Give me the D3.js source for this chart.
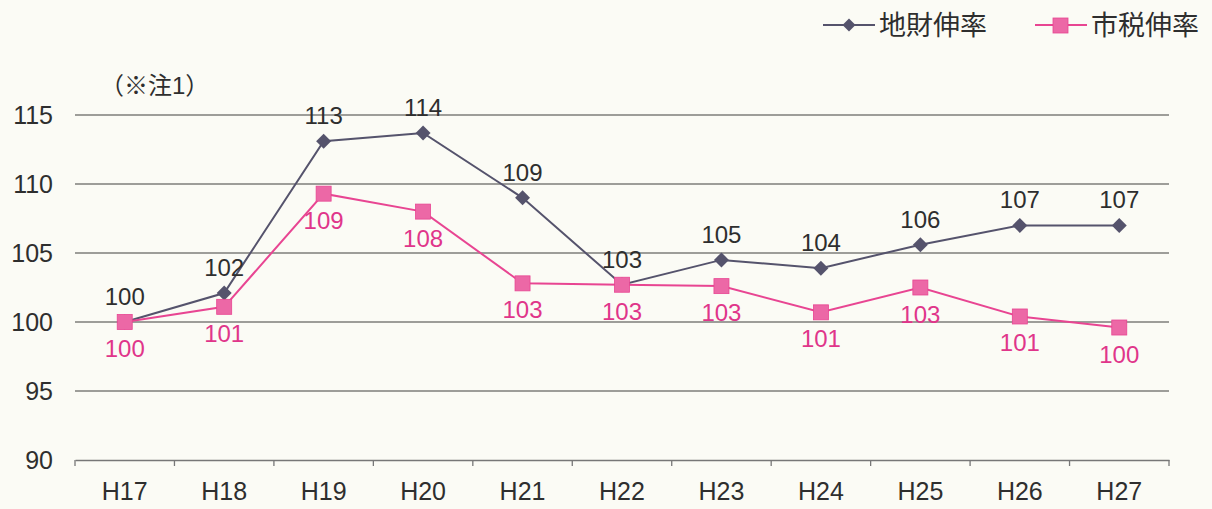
<!DOCTYPE html>
<html><head><meta charset="utf-8">
<script src="https://cdn.jsdelivr.net/npm/d3@7"></script>
<style>
body{margin:0;background:#fbfbf5;}
svg{display:block;}
text{font-family:"Liberation Sans",Arial,"Noto Sans CJK JP",sans-serif;}
</style></head>
<body><svg id="c" width="1212" height="509"></svg>
<script>
const categories = ["H17","H18","H19","H20","H21","H22","H23","H24","H25","H26","H27"];
const chizaiValues = [100,102.1,113.1,113.7,109.0,102.7,104.5,103.9,105.6,107.0,107.0];
const chizaiLabels = ["100","102","113","114","109","103","105","104","106","107","107"];
const shizeiValues = [100,101.1,109.3,108.0,102.8,102.7,102.6,100.7,102.5,100.4,99.6];
const shizeiLabels = ["100","101","109","108","103","103","103","101","103","101","100"];
const yTicks = [90,95,100,105,110,115];
const seriesNames = ["地財伸率","市税伸率"];

const svg = d3.select("#c");
const x = d3.scaleBand().domain(categories).range([75,1169]);
const y = d3.scaleLinear().domain([90,115]).range([460,115]);
const darkC = "#55536c", pinkLine = "#e84592", pinkMark = "#ec68a6";

// gridlines
svg.append("g").selectAll("line").data(yTicks.filter(d=>d>90)).join("line")
  .attr("x1",75).attr("x2",1169).attr("y1",d=>y(d)).attr("y2",d=>y(d))
  .attr("stroke","#7e7e7a").attr("stroke-width",1.3);
// y labels
svg.append("g").selectAll("text").data(yTicks).join("text")
  .attr("x",53).attr("y",d=>y(d)+9).attr("text-anchor","end")
  .attr("font-size",25).attr("fill","#2e2e2e").text(d=>d);
// x axis
const xa = svg.append("g").attr("transform","translate(0,460)")
  .call(d3.axisBottom(x).tickSize(0).tickPadding(22));
xa.select(".domain").attr("stroke","#777").attr("stroke-width",1.3);
xa.selectAll("text").attr("font-size",25).attr("fill","#2e2e2e")
  .attr("font-family","\"Liberation Sans\",Arial,sans-serif");
// boundary ticks
const bounds = categories.map(c=>x(c)).concat([x.range()[1]]);
svg.append("g").selectAll("line").data(bounds).join("line")
  .attr("x1",d=>d).attr("x2",d=>d).attr("y1",460).attr("y2",466)
  .attr("stroke","#777").attr("stroke-width",1.3);

const cx = c => x(c)+x.bandwidth()/2;
const line = d3.line().x((d,i)=>cx(categories[i])).y(d=>y(d));

// lines
svg.append("path").datum(chizaiValues).attr("d",line).attr("fill","none")
  .attr("stroke",darkC).attr("stroke-width",2);
svg.append("path").datum(shizeiValues).attr("d",line).attr("fill","none")
  .attr("stroke",pinkLine).attr("stroke-width",2);

// markers
const diamond = d3.symbol().type(d3.symbolSquare).size(112);
svg.append("g").selectAll("path").data(chizaiValues).join("path")
  .attr("d",diamond).attr("transform",(d,i)=>`translate(${cx(categories[i])},${y(d)}) rotate(45)`)
  .attr("fill",darkC);
svg.append("g").selectAll("rect").data(shizeiValues).join("rect")
  .attr("x",(d,i)=>cx(categories[i])-7.5).attr("y",d=>y(d)-7.5)
  .attr("width",15).attr("height",15).attr("fill",pinkMark).attr("stroke",pinkLine).attr("stroke-width",0.8);

// labels
svg.append("g").selectAll("text").data(chizaiValues).join("text")
  .attr("x",(d,i)=>cx(categories[i])).attr("y",d=>y(d)-17).attr("text-anchor","middle")
  .attr("font-size",24).attr("fill","#2e2e2e").text((d,i)=>chizaiLabels[i]);
svg.append("g").selectAll("text").data(shizeiValues).join("text")
  .attr("x",(d,i)=>cx(categories[i])).attr("y",d=>y(d)+35).attr("text-anchor","middle")
  .attr("font-size",24).attr("fill","#e0358a").text((d,i)=>shizeiLabels[i]);

// note
svg.append("text").attr("x",100).attr("y",94).attr("font-size",24).attr("fill","#2e2e2e")
  .attr("font-family","\"Noto Sans CJK JP\",sans-serif").text("（※注1）");

// legend
const lg = svg.append("g");
const items = [{name:seriesNames[0],x:823,c:darkC,type:"d"},{name:seriesNames[1],x:1035,c:pinkLine,type:"s"}];
items.forEach(it=>{
  lg.append("line").attr("x1",it.x).attr("x2",it.x+52).attr("y1",25).attr("y2",25)
    .attr("stroke",it.c).attr("stroke-width",2);
  if(it.type==="d"){
    lg.append("path").attr("d",d3.symbol().type(d3.symbolSquare).size(85)())
      .attr("transform",`translate(${it.x+26},25) rotate(45)`).attr("fill",darkC);
  } else {
    lg.append("rect").attr("x",it.x+18).attr("y",18).attr("width",15).attr("height",15)
      .attr("fill",pinkMark).attr("stroke",pinkLine).attr("stroke-width",0.8);
  }
  lg.append("text").attr("x",it.x+56).attr("y",35).attr("font-size",27).attr("fill","#2e2e2e")
    .attr("font-family","\"Noto Sans CJK JP\",sans-serif").text(it.name);
});
</script></body></html>
